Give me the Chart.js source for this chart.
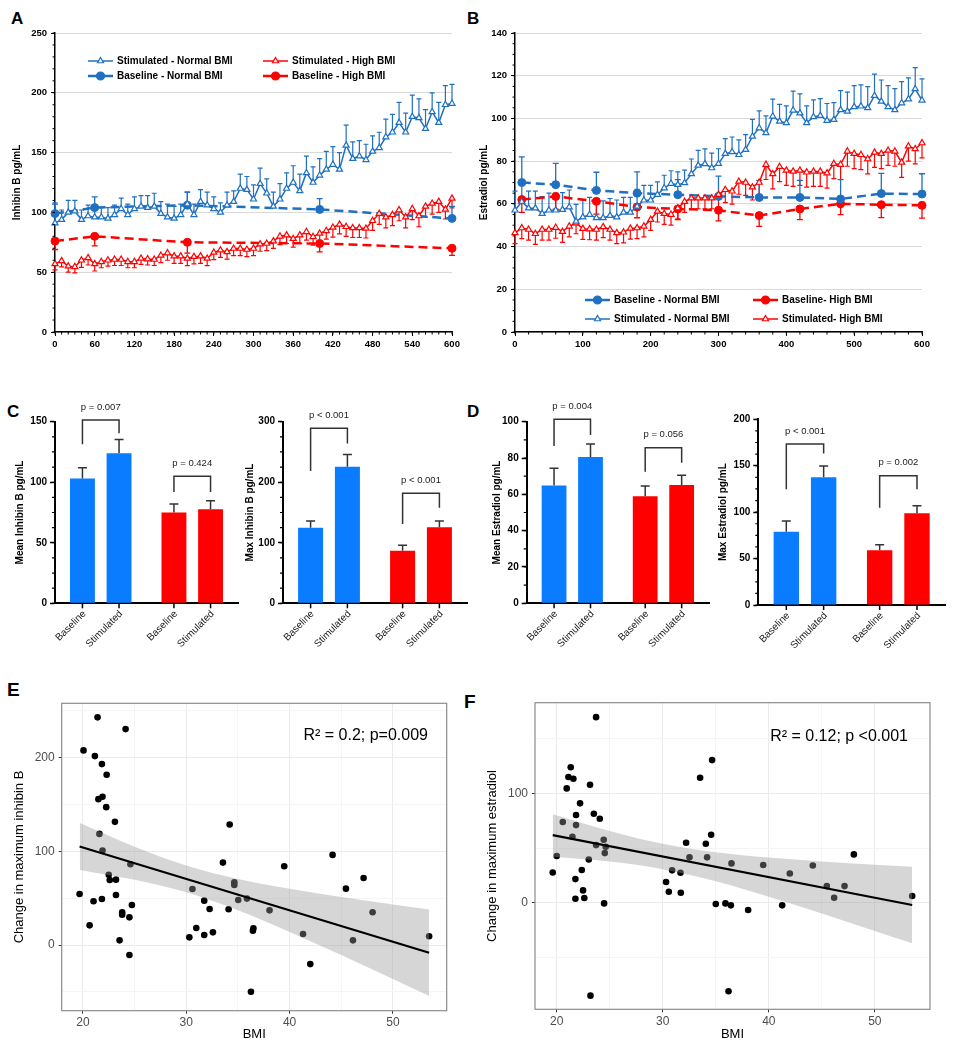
<!DOCTYPE html>
<html>
<head>
<meta charset="utf-8">
<script src="https://cdn.jsdelivr.net/npm/chart.js@4.4.1/dist/chart.umd.min.js"></script>
<style>
body { margin: 0; background: #fff; }
#fig { position: relative; width: 955px; height: 1050px; overflow: hidden; background: #fff; }
#fig canvas { position: absolute; }
.lab { position: absolute; font: bold 17px Arial, "Liberation Sans", sans-serif; line-height: 17px; color: #000; }
.lab.big { font-size: 19px; line-height: 19px; }
</style>
</head>
<body>
<div id="fig">
  <div class="lab" style="left:11px;top:10px">A</div>
  <div class="lab" style="left:467px;top:10px">B</div>
  <div class="lab" style="left:7px;top:403px">C</div>
  <div class="lab" style="left:467px;top:403px">D</div>
  <div class="lab big" style="left:7px;top:680px">E</div>
  <div class="lab big" style="left:464px;top:692px">F</div>
</div>
<script>
// ---------- data ----------
// sampling times (min) for the stimulated series
const tStim = [0,10,20,30,40,50,60,70,80,90,100,110,120,130,140,150,160,170,180,190,200,
  210,220,230,240,250,260,270,280,290,300,310,320,330,340,350,360,370,380,390,400,
  410,420,430,440,450,460,470,480,490,500,510,520,530,540,550,560,570,580,590,600];

// A: inhibin B
const stimNormA = [91,94,100,101,94,97,96,96,95,98,103,98,103,105,104,105,99,96,95,98,
  107,98,109,106,103,100,106,109,120,119,111,124,116,105,111,120,125,118,133,125,
  131,136,140,136,156,145,147,144,151,154,163,167,175,167,180,179,170,184,175,190,191];
const stimNormErrA = [17,8,10,9,8,9,10,8,9,8,9,9,10,9,10,11,10,11,10,9,10,9,10,11,10,8,11,9,12,11,
  12,13,12,12,13,13,14,14,14,13,14,15,15,14,17,14,13,13,13,13,15,15,17,16,18,16,16,16,17,16,16];
const stimHighA = [57,59.5,55,54.5,60,62,57,58.7,60,60.6,60.6,58.7,58.7,61.5,61,60.6,64,66,63.4,63.4,
  61.5,63,63.4,61.5,66.5,68.4,67,69.8,69.8,69,69.8,73.5,74,76,80,81,78,81,83.8,79.6,
  82.4,84.6,87.4,90,88,87,87,86.6,93,99,96,98,102,96,103,97,105,107.5,109,102.5,111.7];
const stimHighErrA = [5,5,5,5,6,6,6,5,5,5,5,5,5,5,5,5,6,6,6,6,6,6,6,6,6,6,6,6,6,6,
  6,6,6,6,7,7,7,7,7,7,7,7,8,8,8,8,8,8,8,9,9,9,9,9,9,9,9,9,9,8,8];
const baseTA = [0,60,200,400,600];
const baseNormA = [99,104,106,102.5,95];
const baseNormErrA = [8,9,11,9,10];
const baseHighA = [76,80,75,74,70];
const baseHighErrA = [7,8,9,7,6];

// B: estradiol
const stimNormB = [57,61,58,58,55.4,57,57,57.3,58.5,51.8,53.8,55,53.4,53.4,54.5,53.8,56,56,58.8,61.7,
  61.7,64.3,67.4,69.5,69,69.8,74,78,78.7,76.8,78.8,83.5,84.3,83,85.4,91.6,95.5,93.2,101,98.6,
  97.9,103.8,102.5,97.9,100.7,101.3,99,99.4,104,103.3,105.4,105.7,104.9,110.7,108,105.4,104,107.2,109,113.8,108.5];
const stimNormErrB = [9,8,8,8,8,8,8,8,8,8,8,8,8,8,8,8,7,7,8,7,7,6,6,6,6,6,7,7,7,7,
  7,7,7,7,7,8,8,8,8,8,8,9,9,8,8,8,8,8,9,9,10,10,10,10,10,10,10,10,10,10,10];
const stimHighB = [46.4,48.7,48,46,48,48,48.9,47,49.5,51,48.4,48.2,48,49.2,48,46.4,46.7,48.5,48.7,49.5,
  52.6,56.5,55.4,55,58,61,62.7,62.7,62.7,62.7,64.3,66.6,65.9,70.5,70,67.8,70,78.4,74,77.4,
  75.7,75.2,75.7,74.8,75.2,75.2,74.4,78.8,78.4,84.6,83.5,83,81,84.1,83.5,85,84.6,79.4,87,85.7,88.5];
const stimHighErrB = [5,5,5,5,5,5,5,5,5,5,5,5,5,5,5,5,5,5,5,5,5,5,5,5,5,5,5,5,5,5,
  6,6,6,6,6,6,6,7,7,7,7,7,7,7,7,7,7,7,7,7,7,7,7,7,7,7,7,7,7,7,7];
const baseTB = [10,60,120,180,240,300,360,420,480,540,600];
const baseNormB = [70,69,66.3,65,64.3,63.5,63,63,62.3,64.8,64.6];
const baseNormErrB = [12,10,8.5,10,7,9.5,8,8,9,9.5,9.5];
const baseHighB = [62,63.5,61.2,58.5,57.6,57,54.5,57.6,60,59.6,59.3];
const baseHighErrB = [6,6,6,5,5,5,5,5,5,6,6];

// C / D: summary bars, groups = [Normal BMI, High BMI]
const groups = ['Normal BMI', 'High BMI'];
const meanInhBase = [103, 75],   meanInhBaseErr = [9, 7];
const meanInhStim = [124, 77.6], meanInhStimErr = [11.4, 7.2];
const maxInhBase = [125, 87],    maxInhBaseErr = [11, 8.8];
const maxInhStim = [225.7, 125.5], maxInhStimErr = [20.3, 10.5];
const meanE2Base = [64.8, 58.9], meanE2BaseErr = [9.5, 5.7];
const meanE2Stim = [80.6, 65.1], meanE2StimErr = [7.1, 5.4];
const maxE2Base = [79, 58.9],    maxE2BaseErr = [11.5, 6.1];
const maxE2Stim = [137.5, 98.7], maxE2StimErr = [12.2, 8.3];
// significance brackets: [top, left leg end, right leg end] in axis units
const brMeanInh = [[151.4, 131.3, 140.4], [105, 92, 92]];
const brMaxInh  = [[289, 218.5, 264], [181.6, 131, 158]];
const brMeanE2  = [[101.3, 86.6, 92.7], [85.7, 72.5, 77.4]];
const brMaxE2   = [[173.4, 124.6, 163.3], [139.3, 104.8, 124.6]];
const pMeanInh = ['p = 0.007', 'p = 0.424'];
const pMaxInh  = ['p < 0.001', 'p < 0.001'];
const pMeanE2  = ['p = 0.004', 'p = 0.056'];
const pMaxE2   = ['p < 0.001', 'p = 0.002'];

// E / F: change vs BMI
const bmiE = [19.68,20.06,20.65,21.03,21.16,21.42,21.5,21.6,21.84,21.9,21.84,21.9,22.3,22.26,22.5,22.6,
  23.1,23.2,23.2,23.55,23.8,23.8,24.13,24.5,24.5,24.6,24.74,30.3,30.6,30.97,31.74,31.74,32.26,32.58,
  33.55,34.1,34.2,34.65,34.65,35.03,35.87,36.26,36.45,36.5,38.06,39.48,41.3,42,44.16,45.45,46.13,47.16,48.03,53.5];
const dInhE = [54.4,207.5,21,46.6,201.4,242.7,155.5,118.5,192.9,158,49.1,100.7,181.5,147,75,69.4,
  131.3,69.7,53.4,5,34.9,32.4,230.2,29.5,-10.7,86.1,42.7,8.2,59.8,18.1,47.3,10.7,38.4,13.5,
  87.9,38.1,128.5,66.9,64,48,49.5,-49.8,15.3,17.8,37,84,11.7,-20.3,96.1,60.1,5,71.5,34.9,9.3];
const fitXE = [19.68, 53.5], fitYE = [105, -8.2];
const bandXE = [19.7, 25, 30, 35, 40, 45, 50, 53.5];
const bandHiE = [130, 104.9, 84.8, 70.3, 60, 51.3, 43.2, 37.8];
const bandLoE = [80, 69.5, 56.2, 37.1, 14, -10.7, -36.2, -54.2];

const bmiF = [19.62,20,20.57,20.94,21.1,21.32,21.57,21.48,21.82,21.82,21.76,21.76,22.2,22.36,22.48,22.6,
  23.02,23.14,23.18,23.5,23.71,23.71,24.06,24.43,24.53,24.62,24.47,30.31,30.57,30.88,31.67,31.7,32.2,32.52,
  33.52,34.06,34.18,34.56,34.65,35,35.91,36.2,36.42,36.48,38.05,39.47,41.26,41.98,44.15,45.47,46.16,47.14,48.02,53.52];
const dE2F = [27.7,42.7,73.8,104.6,115,124,113.4,60.4,80.2,71,21.6,3.7,90.9,29.9,11.3,4.3,
  39.6,108,-85,81.4,169.8,52.7,76.8,57.6,45.4,51.2,-0.6,18.9,10,29.6,27.4,9.1,54.9,41.5,
  114.3,54,41.5,62.2,130.5,-1.2,-0.6,-81,-2.4,36,-6.7,34.5,-2.4,26.8,34.1,15.2,4.6,15.2,44.2,6.1];
const fitXF = [19.62, 53.52], fitYF = [61.9, -2.1];
const bandXF = [19.62, 25, 30, 35, 40, 45, 50, 53.52];
const bandHiF = [81, 65.7, 53.9, 46.2, 41.3, 37.8, 34.8, 33];
const bandLoF = [42, 37.7, 30.7, 19.6, 5.5, -9.8, -25.8, -37.1];

// ---------- setup ----------
const FONT = 'Arial, "Liberation Sans", sans-serif';
Chart.defaults.font.family = FONT;
Chart.defaults.color = '#000';
Chart.defaults.animation = false;
Chart.defaults.plugins.legend.display = false;
Chart.defaults.plugins.tooltip.enabled = false;

const BLUE = '#1f70c1', RED = '#ff0000';
const BAR_BLUE = '#0a7cff', BAR_RED = '#ff0000';

const xy = (xs, ys) => xs.map((x, i) => ({x: x, y: ys[i]}));

function addCanvas(box) {
  const c = document.createElement('canvas');
  c.width = box.w; c.height = box.h;
  c.style.left = box.x + 'px'; c.style.top = box.y + 'px';
  c.style.width = box.w + 'px'; c.style.height = box.h + 'px';
  document.getElementById('fig').appendChild(c);
  return c;
}

// padding so that the chart area lands on plot {l,t,r,b}
function frame(box, plot, yw, xh) {
  return {padding: {
    left: plot.l - box.x - yw,
    top: plot.t - box.y,
    right: box.x + box.w - plot.r,
    bottom: box.y + box.h - plot.b - xh
  }};
}

// ---------- plugins ----------
const errorBars = {
  id: 'errorBars',
  beforeDatasetsDraw(chart) {
    const ctx = chart.ctx;
    chart.data.datasets.forEach((ds, i) => {
      if (!ds.errUp && !ds.errDown) return;
      const meta = chart.getDatasetMeta(i);
      const ys = chart.scales[meta.yAxisID];
      const cap = ds.errCap || 5;
      ctx.save();
      ctx.strokeStyle = ds.errColor || ds.borderColor;
      ctx.lineWidth = ds.errWidth || 1.2;
      meta.data.forEach((el, j) => {
        const d = ds.data[j];
        const v = typeof d === 'object' ? d.y : d;
        const e = ds.errUp ? ds.errUp[j] : -ds.errDown[j];
        const y1 = ys.getPixelForValue(v + e);
        ctx.beginPath();
        ctx.moveTo(el.x, el.y); ctx.lineTo(el.x, y1);
        ctx.moveTo(el.x - cap / 2, y1); ctx.lineTo(el.x + cap / 2, y1);
        ctx.stroke();
      });
      ctx.restore();
    });
  }
};

const minorTicks = {
  id: 'minorTicks',
  afterDraw(chart, args, opts) {
    const ctx = chart.ctx, a = chart.chartArea, len = opts.len || 2.5;
    ctx.save();
    ctx.strokeStyle = '#000';
    ctx.lineWidth = opts.width || 1;
    ['x', 'y'].forEach(k => {
      const step = opts[k];
      if (!step) return;
      const s = chart.scales[k];
      ctx.beginPath();
      for (let v = s.min; v <= s.max + 1e-9; v += step) {
        const p = s.getPixelForValue(v);
        if (k === 'x') { ctx.moveTo(p, a.bottom); ctx.lineTo(p, a.bottom + len); }
        else { ctx.moveTo(a.left - len, p); ctx.lineTo(a.left, p); }
      }
      ctx.stroke();
    });
    ctx.restore();
  }
};

function drawMarker(ctx, style, x, y, r, fill, stroke) {
  ctx.beginPath();
  if (style === 'triangle') {
    ctx.moveTo(x, y - r);
    ctx.lineTo(x + r * 0.866, y + r * 0.5);
    ctx.lineTo(x - r * 0.866, y + r * 0.5);
    ctx.closePath();
  } else {
    ctx.arc(x, y, r, 0, Math.PI * 2);
  }
  ctx.fillStyle = fill; ctx.fill();
  ctx.strokeStyle = stroke; ctx.lineWidth = 1.2; ctx.stroke();
}

const boxLegend = {
  id: 'boxLegend',
  afterDraw(chart, args, opts) {
    if (!opts.rows) return;
    const ctx = chart.ctx;
    ctx.save();
    ctx.font = 'bold 10px ' + FONT;
    ctx.textBaseline = 'middle';
    opts.rows.forEach((row, r) => row.forEach((di, c) => {
      const ds = chart.data.datasets[di];
      const x = opts.x[c], y = opts.y + r * opts.dy, len = opts.len;
      ctx.setLineDash(ds.borderDash ? [9, 7] : []);
      ctx.lineDashOffset = 0;
      ctx.strokeStyle = ds.borderColor; ctx.lineWidth = ds.borderWidth;
      ctx.beginPath(); ctx.moveTo(x, y); ctx.lineTo(x + len, y); ctx.stroke();
      ctx.setLineDash([]);
      drawMarker(ctx, ds.pointStyle, x + len / 2, y, ds.pointRadius, ds.pointBackgroundColor, ds.pointBorderColor);
      ctx.fillStyle = '#000';
      ctx.fillText(ds.label, x + len + 4, y + 0.5);
    }));
    ctx.restore();
  }
};

const barLabels = {
  id: 'barLabels',
  afterDraw(chart, args, opts) {
    if (!opts.on) return;
    const ctx = chart.ctx, bottom = chart.chartArea.bottom;
    ctx.save();
    chart.data.datasets.forEach((ds, d) => {
      chart.getDatasetMeta(d).data.forEach(el => {
        ctx.strokeStyle = '#000'; ctx.lineWidth = 1.5;
        ctx.beginPath(); ctx.moveTo(el.x, bottom); ctx.lineTo(el.x, bottom + 5); ctx.stroke();
        ctx.save();
        ctx.translate(el.x + 2, bottom + 9);
        ctx.rotate(-Math.PI / 4);
        ctx.font = '10px ' + FONT;
        ctx.fillStyle = '#222';
        ctx.textAlign = 'right'; ctx.textBaseline = 'middle';
        ctx.fillText(ds.label, 0, 0);
        ctx.restore();
      });
    });
    ctx.restore();
  }
};

const brackets = {
  id: 'brackets',
  afterDraw(chart, args, opts) {
    if (!opts.items) return;
    const ctx = chart.ctx, ys = chart.scales.y;
    ctx.save();
    opts.items.forEach((b, k) => {
      const xa = chart.getDatasetMeta(0).data[k].x;
      const xb = chart.getDatasetMeta(1).data[k].x;
      const yt = ys.getPixelForValue(b[0]);
      ctx.strokeStyle = '#333'; ctx.lineWidth = 1.5;
      ctx.beginPath();
      ctx.moveTo(xa, ys.getPixelForValue(b[1])); ctx.lineTo(xa, yt);
      ctx.lineTo(xb, yt); ctx.lineTo(xb, ys.getPixelForValue(b[2]));
      ctx.stroke();
      ctx.font = '9.5px ' + FONT; ctx.fillStyle = '#222';
      ctx.textAlign = 'center'; ctx.textBaseline = 'middle';
      ctx.fillText(opts.text[k], (xa + xb) / 2, yt - 13);
    });
    ctx.restore();
  }
};

const panelBox = {
  id: 'panelBox',
  afterDraw(chart, args, opts) {
    if (!opts.on) return;
    const a = chart.chartArea, ctx = chart.ctx;
    ctx.save();
    ctx.strokeStyle = '#8c8c8c'; ctx.lineWidth = 1.2;
    ctx.strokeRect(a.left, a.top, a.right - a.left, a.bottom - a.top);
    ctx.fillStyle = '#000'; ctx.font = '16px ' + FONT;
    ctx.textAlign = 'right'; ctx.textBaseline = 'middle';
    ctx.fillText(opts.note, opts.nx, opts.ny);
    ctx.restore();
  }
};

Chart.register(errorBars, minorTicks, boxLegend, barLabels, brackets, panelBox);

// ---------- builders ----------
function stimSet(label, color, xs, ys, err, dir) {
  const ds = {label: label, data: xy(xs, ys), borderColor: color, backgroundColor: color, borderWidth: 1.5,
    pointStyle: 'triangle', pointRadius: 3.5, pointBackgroundColor: '#fff', pointBorderColor: color,
    pointBorderWidth: 1.2, errCap: 5, errWidth: 1.2, clip: false};
  ds[dir] = err;
  return ds;
}
function baseSet(label, color, xs, ys, err, dir) {
  const ds = {label: label, data: xy(xs, ys), borderColor: color, backgroundColor: color, borderWidth: 2.5,
    borderDash: [9, 5], pointStyle: 'circle', pointRadius: 4, pointBackgroundColor: color,
    pointBorderColor: color, pointBorderWidth: 1, errCap: 6, errWidth: 1.3, clip: false};
  ds[dir] = err;
  return ds;
}

function lineChart(box, plot, yw, o) {
  return new Chart(addCanvas(box), {
    type: 'line',
    data: {datasets: o.datasets},
    options: {
      responsive: false,
      layout: frame(box, plot, yw, 20),
      scales: {
        x: {type: 'linear', min: 0, max: 600,
          afterFit: s => { s.height = 20; },
          ticks: {stepSize: o.xStep, font: {weight: 'bold', size: 9.5}, padding: 3, maxRotation: 0},
          grid: {drawOnChartArea: false, tickLength: 4, tickColor: '#000'},
          border: {color: '#000', width: 1.5}},
        y: {min: 0, max: o.yMax,
          afterFit: s => { s.width = yw; },
          ticks: {stepSize: o.yStep, font: {weight: 'bold', size: 9.5}, padding: 4},
          grid: {color: '#d9d9d9', tickLength: 4, tickColor: '#000'},
          border: {color: '#000', width: 1.5},
          title: {display: true, text: o.title, font: {weight: 'bold', size: 10}, padding: {top: o.tpad, bottom: 0}}}
      },
      plugins: {minorTicks: {x: o.xMinor, y: o.yMinor, len: 2.5}, boxLegend: o.legend}
    }
  });
}

function barChart(box, plot, yw, o) {
  return new Chart(addCanvas(box), {
    type: 'bar',
    data: {labels: groups, datasets: [
      {label: 'Baseline', data: o.base, errUp: o.baseErr, backgroundColor: [BAR_BLUE, BAR_RED],
        errColor: '#333', errCap: 9, errWidth: 1.5},
      {label: 'Stimulated', data: o.stim, errUp: o.stimErr, backgroundColor: [BAR_BLUE, BAR_RED],
        errColor: '#333', errCap: 9, errWidth: 1.5}
    ]},
    options: {
      responsive: false,
      layout: frame(box, plot, yw, 50),
      datasets: {bar: {categoryPercentage: 0.8, barPercentage: 0.68, borderWidth: 0}},
      scales: {
        x: {afterFit: s => { s.height = 50; }, ticks: {display: false}, grid: {display: false},
          border: {color: '#000', width: 2}},
        y: {min: 0, max: o.max, afterFit: s => { s.width = yw; },
          ticks: {stepSize: o.step, font: {weight: 'bold', size: 10}, padding: 3},
          grid: {drawOnChartArea: false, tickLength: 5, tickColor: '#000', tickWidth: 1.5},
          border: {color: '#000', width: 2},
          title: {display: true, text: o.title, font: {weight: 'bold', size: 10}, padding: {top: o.tpad, bottom: 0}}}
      },
      plugins: {minorTicks: {y: o.minor, len: 3, width: 1.2}, brackets: {items: o.br, text: o.p}, barLabels: {on: true}}
    }
  });
}

function scatterChart(box, plot, yw, xh, o) {
  const major = (v, m) => Math.abs(v % m) < 1e-9;
  return new Chart(addCanvas(box), {
    type: 'scatter',
    data: {datasets: [
      {type: 'line', data: xy(o.fitX, o.fitY), borderColor: '#000', borderWidth: 2.2, pointRadius: 0, order: 0},
      {type: 'line', data: xy(o.bandX, o.bandHi), borderColor: 'rgba(0,0,0,0)', pointRadius: 0,
        fill: '+1', backgroundColor: 'rgba(153,153,153,0.4)', cubicInterpolationMode: 'monotone', order: 1},
      {type: 'line', data: xy(o.bandX, o.bandLo), borderColor: 'rgba(0,0,0,0)', pointRadius: 0,
        fill: false, cubicInterpolationMode: 'monotone', order: 1},
      {data: xy(o.x, o.y), pointRadius: 3.3, pointBackgroundColor: '#000', pointBorderColor: '#000',
        pointBorderWidth: 0, order: 2}
    ]},
    options: {
      responsive: false,
      layout: frame(box, plot, yw, xh),
      scales: {
        x: {type: 'linear', min: 17.95, max: 55.2,
          afterFit: s => { s.height = xh; },
          afterBuildTicks: s => { s.ticks = o.xTicks.map(v => ({value: v})); },
          ticks: {callback: v => major(v, 10) ? v : '', font: {size: 12}, color: '#4d4d4d', padding: 2, maxRotation: 0, autoSkip: false},
          grid: {color: c => major(c.tick.value, 10) ? '#ebebeb' : '#f5f5f5',
            tickColor: c => major(c.tick.value, 10) ? '#333' : 'rgba(0,0,0,0)', tickLength: 3},
          border: {display: false},
          title: {display: true, text: 'BMI', font: {size: 13}, padding: {top: 0, bottom: 8}}},
        y: {min: o.yMin, max: o.yMax,
          afterFit: s => { s.width = yw; },
          afterBuildTicks: s => { s.ticks = o.yTicks.map(v => ({value: v})); },
          ticks: {callback: v => major(v, 100) ? v : '', font: {size: 12}, color: '#4d4d4d', padding: 4, autoSkip: false},
          grid: {color: c => major(c.tick.value, 100) ? '#ebebeb' : '#f5f5f5',
            tickColor: c => major(c.tick.value, 100) ? '#333' : 'rgba(0,0,0,0)', tickLength: 3},
          border: {display: false},
          title: {display: true, text: o.title, font: {size: 13}, padding: {top: o.tpad, bottom: 0}}}
      },
      plugins: {panelBox: {on: true, note: o.note, nx: o.nx, ny: o.ny}}
    }
  });
}

// ---------- A ----------
lineChart({x: 0, y: 0, w: 470, h: 355}, {l: 55, t: 33, r: 452, b: 332}, 55, {
  datasets: [
    stimSet('Stimulated - Normal BMI', BLUE, tStim, stimNormA, stimNormErrA, 'errUp'),
    stimSet('Stimulated - High BMI', RED, tStim, stimHighA, stimHighErrA, 'errDown'),
    baseSet('Baseline - Normal BMI', BLUE, baseTA, baseNormA, baseNormErrA, 'errUp'),
    baseSet('Baseline - High BMI', RED, baseTA, baseHighA, baseHighErrA, 'errDown')
  ],
  xStep: 60, xMinor: 10, yMax: 250, yStep: 50, yMinor: 10,
  title: 'Inhibin B pg/mL', tpad: 11,
  legend: {rows: [[0, 1], [2, 3]], x: [88, 263], y: 61, dy: 15, len: 25}
});

// ---------- B ----------
lineChart({x: 470, y: 0, w: 485, h: 355}, {l: 515, t: 33, r: 922, b: 332}, 45, {
  datasets: [
    stimSet('Stimulated - Normal BMI', BLUE, tStim, stimNormB, stimNormErrB, 'errUp'),
    stimSet('Stimulated- High BMI', RED, tStim, stimHighB, stimHighErrB, 'errDown'),
    baseSet('Baseline - Normal BMI', BLUE, baseTB, baseNormB, baseNormErrB, 'errUp'),
    baseSet('Baseline- High BMI', RED, baseTB, baseHighB, baseHighErrB, 'errDown')
  ],
  xStep: 100, xMinor: 20, yMax: 140, yStep: 20, yMinor: 5,
  title: 'Estradiol pg/mL', tpad: 8,
  legend: {rows: [[2, 3], [0, 1]], x: [115, 283], y: 300, dy: 19, len: 25}
});

// ---------- C ----------
barChart({x: 0, y: 380, w: 245, h: 285}, {l: 55, t: 421.7, r: 238, b: 603.3}, 55, {
  base: meanInhBase, baseErr: meanInhBaseErr, stim: meanInhStim, stimErr: meanInhStimErr,
  max: 150, step: 50, minor: 12.5, title: 'Mean Inhibin B pg/mL', tpad: 14, br: brMeanInh, p: pMeanInh
});
barChart({x: 240, y: 380, w: 235, h: 285}, {l: 283, t: 421.7, r: 467, b: 603.3}, 43, {
  base: maxInhBase, baseErr: maxInhBaseErr, stim: maxInhStim, stimErr: maxInhStimErr,
  max: 300, step: 100, minor: 25, title: 'Max Inhibin B pg/mL', tpad: 4, br: brMaxInh, p: pMaxInh
});

// ---------- D ----------
barChart({x: 470, y: 380, w: 245, h: 285}, {l: 526.7, t: 421.7, r: 709, b: 603.3}, 56.7, {
  base: meanE2Base, baseErr: meanE2BaseErr, stim: meanE2Stim, stimErr: meanE2StimErr,
  max: 100, step: 20, minor: 10, title: 'Mean Estradiol pg/mL', tpad: 21, br: brMeanE2, p: pMeanE2
});
barChart({x: 712, y: 380, w: 243, h: 285}, {l: 758.3, t: 419.3, r: 945, b: 605}, 46.3, {
  base: maxE2Base, baseErr: maxE2BaseErr, stim: maxE2Stim, stimErr: maxE2StimErr,
  max: 200, step: 50, minor: 12.5, title: 'Max Estradiol pg/mL', tpad: 5, br: brMaxE2, p: pMaxE2
});

// ---------- E ----------
scatterChart({x: 0, y: 670, w: 470, h: 380}, {l: 61.7, t: 703.3, r: 446.7, b: 1010.7}, 61.7, 39.3, {
  x: bmiE, y: dInhE, fitX: fitXE, fitY: fitYE, bandX: bandXE, bandHi: bandHiE, bandLo: bandLoE,
  yMin: -70, yMax: 257.7, xTicks: [20, 25, 30, 35, 40, 45, 50], yTicks: [-50, 0, 50, 100, 150, 200, 250],
  title: 'Change in maximum inhibin B', tpad: 12,
  note: 'R\u00b2 = 0.2; p=0.009', nx: 428, ny: 66
});

// ---------- F ----------
scatterChart({x: 470, y: 670, w: 485, h: 380}, {l: 535, t: 702.7, r: 930, b: 1009.3}, 65, 40.7, {
  x: bmiF, y: dE2F, fitX: fitXF, fitY: fitYF, bandX: bandXF, bandHi: bandHiF, bandLo: bandLoF,
  yMin: -97.5, yMax: 183, xTicks: [20, 25, 30, 35, 40, 45, 50], yTicks: [-50, 0, 50, 100, 150],
  title: 'Change in maximum estradiol', tpad: 15,
  note: 'R\u00b2 = 0.12; p <0.001', nx: 438, ny: 67
});
</script>
</body>
</html>
